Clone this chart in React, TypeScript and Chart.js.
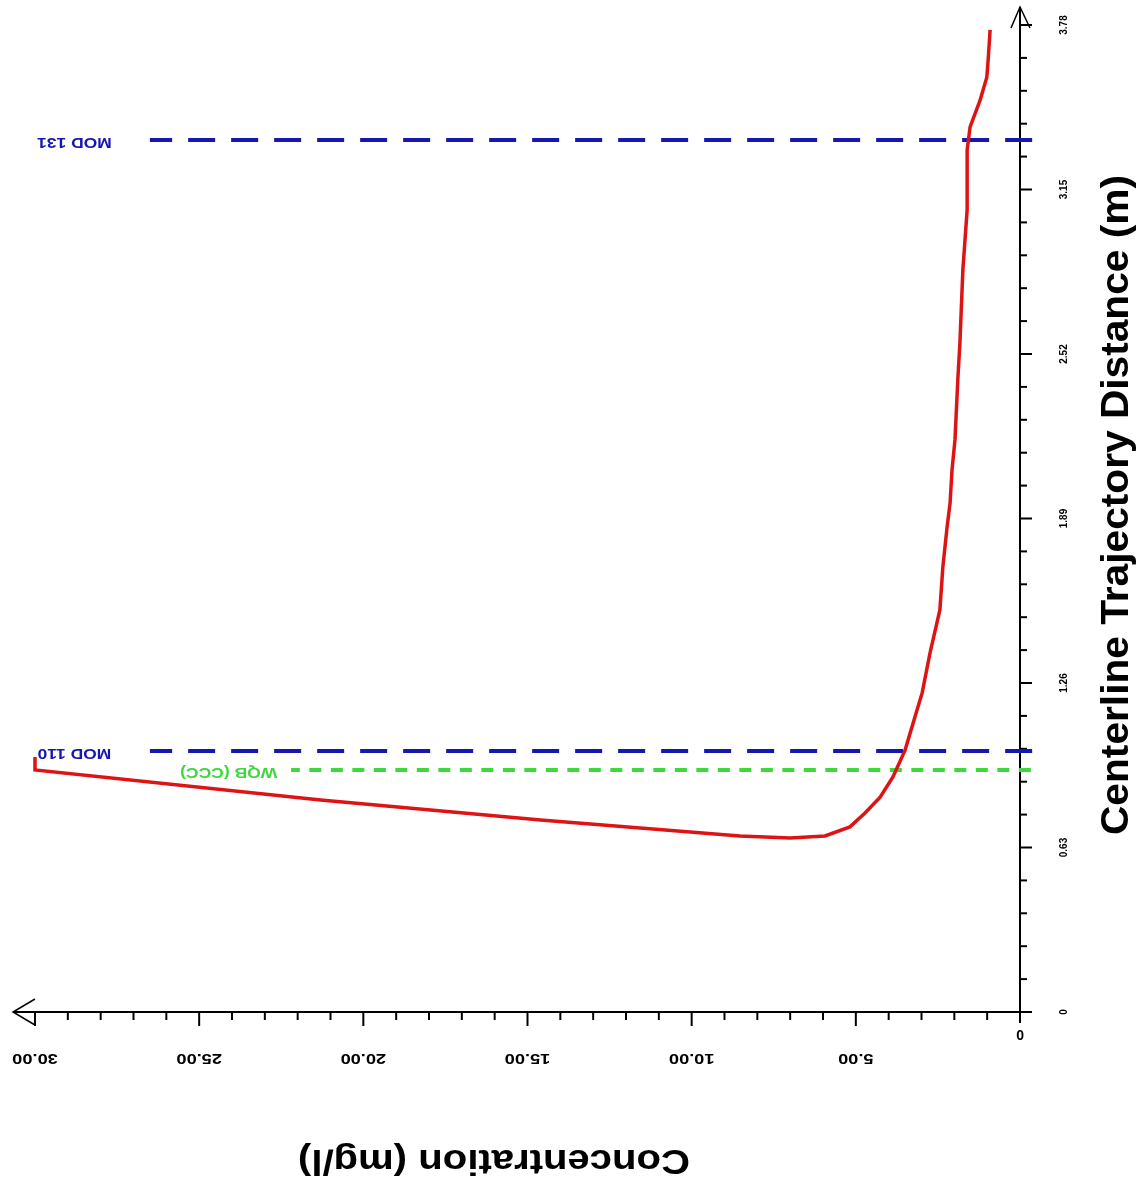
import React, { useEffect, useRef } from "react";
import { Chart, registerables } from "chart.js";

Chart.register(...registerables);

// ---- data ----
const concentration = [30.0, 30.0, 21.3, 14.6, 8.53, 7.0, 5.94, 5.18, 4.72, 4.26, 3.87, 3.5, 3.2, 2.98, 2.74, 2.44, 2.35, 2.22, 2.13, 2.07, 1.98, 1.89, 1.83, 1.74, 1.61, 1.61, 1.52, 1.22, 1.01, 0.97, 0.91];
const distance = [0.977, 0.927, 0.812, 0.735, 0.674, 0.666, 0.674, 0.709, 0.762, 0.823, 0.9, 1.003, 1.13, 1.222, 1.375, 1.54, 1.704, 1.858, 1.949, 2.076, 2.191, 2.432, 2.562, 2.842, 3.072, 3.301, 3.39, 3.49, 3.58, 3.646, 3.761];

const refNames = ["MOD 131", "MOD 110", "WQB (CCC)"];
const refDistance = [3.34, 1.0, 0.927];
const refStart = [26.5, 26.5, 22.2];
const refEnd = [-0.37, -0.37, -0.33];
const refLabelX = [28.8, 28.8, 24.1];

const xMajorTicks = [0, 5, 10, 15, 20, 25, 30];
const xTickLabels = ["0", "5.00", "10.00", "15.00", "20.00", "25.00", "30.00"];
const xMinorStep = 1;
const yMajorTicks = [0, 0.63, 1.26, 1.89, 2.52, 3.15, 3.78];
const yTickLabels = ["0", "0.63", "1.26", "1.89", "2.52", "3.15", "3.78"];
const yMinorStep = 0.126;

const xTitle = "Concentration (mg/l)";
const yTitle = "Centerline Trajectory Distance (m)";

const RED = "#de1414";
const BLUE = "#1616b0";
const GREEN = "#3cd83c";
const FONT = "'Liberation Sans', Arial, sans-serif";

function drawText(
  ctx: CanvasRenderingContext2D,
  text: string,
  x: number,
  y: number,
  angle: number,
  font: string,
  color: string,
  targetWidth?: number,
  sx = 1
) {
  ctx.save();
  ctx.font = font;
  ctx.fillStyle = color;
  ctx.textAlign = "center";
  ctx.textBaseline = "middle";
  ctx.translate(x, y);
  ctx.rotate(angle);
  let s = sx;
  if (targetWidth) {
    const w = ctx.measureText(text).width;
    s = targetWidth / w;
  }
  ctx.scale(s, 1);
  ctx.fillText(text, 0, 0);
  ctx.restore();
}

const axesPlugin = {
  id: "flippedAxes",
  beforeDatasetsDraw(chart: any) {
    const ctx: CanvasRenderingContext2D = chart.ctx;
    const xs = chart.scales.x;
    const ys = chart.scales.y;
    const x0 = xs.getPixelForValue(0);
    const xMax = xs.getPixelForValue(30);
    const y0 = ys.getPixelForValue(0);
    const yMax = ys.getPixelForValue(3.78);
    ctx.save();
    ctx.strokeStyle = "#000";
    ctx.lineWidth = 2;
    // x axis line
    ctx.beginPath();
    ctx.moveTo(xMax - 22, y0);
    ctx.lineTo(x0 + 12, y0);
    ctx.stroke();
    // y axis line
    ctx.beginPath();
    ctx.moveTo(x0, y0 + 11);
    ctx.lineTo(x0, yMax - 18);
    ctx.stroke();
    // arrows
    ctx.lineWidth = 1.5;
    ctx.beginPath();
    ctx.moveTo(xMax, y0 - 13);
    ctx.lineTo(xMax - 22, y0);
    ctx.lineTo(xMax, y0 + 13);
    ctx.stroke();
    ctx.beginPath();
    ctx.moveTo(x0 - 9, yMax + 3);
    ctx.lineTo(x0, yMax - 18);
    ctx.lineTo(x0 + 10, yMax + 3);
    ctx.stroke();
    // x ticks
    ctx.lineWidth = 2;
    for (let v = xMinorStep; v <= 30 + 1e-9; v += xMinorStep) {
      const isMajor = Math.abs(v / 5 - Math.round(v / 5)) < 1e-6;
      const px = xs.getPixelForValue(v);
      ctx.beginPath();
      ctx.moveTo(px, y0);
      ctx.lineTo(px, y0 + (isMajor ? 14 : 8));
      ctx.stroke();
    }
    // y ticks
    for (let i = 1; i * yMinorStep <= 3.78 + 1e-9; i++) {
      const v = i * yMinorStep;
      const isMajor = i % 5 === 0;
      const py = ys.getPixelForValue(v);
      ctx.beginPath();
      ctx.moveTo(x0, py);
      ctx.lineTo(x0 + (isMajor ? 12 : 7), py);
      ctx.stroke();
    }
    ctx.beginPath();
    ctx.moveTo(x0, y0);
    ctx.lineTo(x0 + 12, y0);
    ctx.stroke();
    ctx.restore();

    // x tick labels (upside down)
    xMajorTicks.forEach((v, i) => {
      const px = xs.getPixelForValue(v);
      if (v === 0) {
        drawText(ctx, xTickLabels[i], px, y0 + 22, Math.PI, `bold 14px ${FONT}`, "#000");
      } else {
        drawText(ctx, xTickLabels[i], px, y0 + 46, Math.PI, `bold 14px ${FONT}`, "#000", undefined, 1.3);
      }
    });
    // y tick labels (rotated)
    yMajorTicks.forEach((v, i) => {
      const py = ys.getPixelForValue(v);
      drawText(ctx, yTickLabels[i], x0 + 44, py, -Math.PI / 2, `bold 10px ${FONT}`, "#000");
    });
    // titles
    drawText(ctx, yTitle, x0 + 98, 505, -Math.PI / 2, `bold 38px ${FONT}`, "#000", 660);
    drawText(ctx, xTitle, 494, y0 + 148, Math.PI, `bold 35px ${FONT}`, "#000", 392);

    // reference labels
    refNames.forEach((name, i) => {
      const px = xs.getPixelForValue(refLabelX[i]);
      const py = ys.getPixelForValue(refDistance[i]);
      const color = i === 2 ? GREEN : BLUE;
      drawText(ctx, name, px, py + 2, Math.PI, `bold 14px ${FONT}`, color, undefined, 1.25);
    });
  },
};

export default function App() {
  const ref = useRef<HTMLCanvasElement | null>(null);
  useEffect(() => {
    if (!ref.current) return;
    const refSets = refNames.map((name, i) => ({
      label: name,
      data: [
        { x: refEnd[i], y: refDistance[i] },
        { x: refStart[i], y: refDistance[i] },
      ],
      showLine: true,
      borderColor: i === 2 ? GREEN : BLUE,
      borderWidth: 4,
      borderDash: i === 2 ? [12, 9.5] : [27, 16],
      pointRadius: 0,
      clip: false as any,
      order: 2,
    }));
    const chart = new Chart(ref.current, {
      type: "scatter",
      data: {
        datasets: [
          ...refSets,
          {
            label: "Concentration",
            data: concentration.map((c, i) => ({ x: c, y: distance[i] })),
            showLine: true,
            borderColor: RED,
            borderWidth: 3.5,
            pointRadius: 0,
            tension: 0,
            clip: false as any,
            order: 1,
          },
        ],
      },
      options: {
        animation: false,
        responsive: false,
        devicePixelRatio: 1,
        layout: { padding: { left: 35, right: 117, top: 25, bottom: 178 } },
        plugins: { legend: { display: false }, tooltip: { enabled: false } },
        scales: {
          x: { type: "linear", min: 0, max: 30, reverse: true, display: false },
          y: { type: "linear", min: 0, max: 3.78, display: false },
        },
      },
      plugins: [axesPlugin],
    });
    return () => chart.destroy();
  }, []);
  return (
    <div style={{ position: "fixed", left: 0, top: 0, width: 1137, height: 1190, background: "#fff" }}>
      <canvas ref={ref} width={1137} height={1190} style={{ width: 1137, height: 1190 }} />
    </div>
  );
}
